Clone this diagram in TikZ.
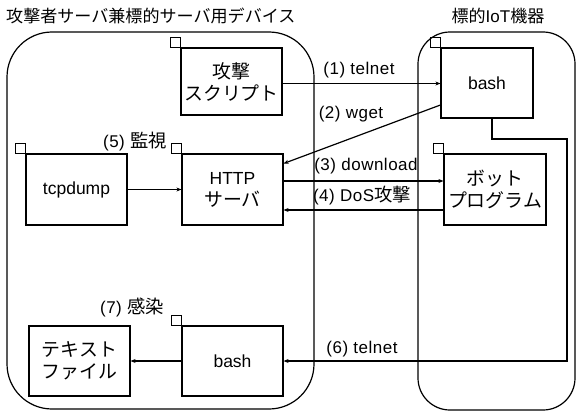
\documentclass[tikz,border=0pt]{standalone}
\usepackage{fontspec}
\setmainfont{Liberation Sans}
\newfontfamily\jp[Scale=1.08]{Noto Sans CJK JP}
\newfontfamily\lblfont[LetterSpace=3]{Liberation Sans}
\usetikzlibrary{arrows.meta}
\tikzset{
  box/.style={draw, line width=1.2pt, rectangle, minimum width=101pt, minimum height=70pt, inner sep=0pt, align=center, font=\fontsize{17.5}{22}\selectfont},
  arr/.style={line width=1.2pt, -{Stealth[length=5pt,width=4pt]}},
  lbl/.style={font=\fontsize{17}{20}\selectfont\lblfont, inner sep=0pt},
  cont/.style={draw, line width=1.2pt},
  ttl/.style={font=\fontsize{15.8}{20}\selectfont\jp, inner sep=0pt}
}
\newcommand{\tagsq}[1]{\draw[line width=1.2pt] (#1.north west) rectangle ++(-10,-10);}
\begin{document}
\begin{tikzpicture}[x=1pt,y=-1pt]
\useasboundingbox (0,0) rectangle (577,412);
% containers
\draw[cont, rounded corners=45pt] (7,32) rectangle (314,409);
\draw[cont, rounded corners=32pt] (418,32) rectangle (575,410);
\node[ttl, anchor=west] (t1) at (6,16) {攻撃者サーバ兼標的サーバ用デバイス};
\node[ttl] (t2) at (498,16) {標的{\fontsize{17}{20}\selectfont\fontspec{Liberation Sans}IoT}機器};
% boxes
\node[box, minimum height=67pt] (scr) at (231.5,81.5) {{\jp 攻撃}\\{\jp スクリプト}};
\node[box, minimum width=92pt] (ib) at (487,83) {bash};
\node[box, minimum height=71pt] (tcp) at (76.5,189.5) {tcpdump};
\node[box, minimum height=71pt] (http) at (232.5,189.5) {HTTP\\{\jp サーバ}};
\node[box, minimum width=102pt, minimum height=71pt] (bot) at (495,189.5) {{\jp ボット}\\{\jp プログラム}};
\node[box] (txt) at (79.5,361) {{\jp テキスト}\\{\jp ファイル}};
\node[box] (bb) at (232.5,361) {bash};
% small squares
\tagsq{scr}
\tagsq{ib}
\tagsq{tcp}
\tagsq{http}
\tagsq{bot}
\tagsq{bb}
% connectors
\draw[arr] ([yshift=-2pt]scr.east) -- ([yshift=-2pt]scr.east -| ib.west);
\draw[arr] ([yshift=-22pt]ib.west) -- ([yshift=26pt]http.east);
\draw[arr] ([yshift=8.5pt]http.east) -- ([yshift=8.5pt]http.east -| bot.west);
\draw[arr] ([yshift=-20.5pt]bot.west) -- ([yshift=-20.5pt]bot.west -| http.east);
\draw[arr] (tcp.east) -- (http.west);
\coordinate (c1) at (567,139);
\draw[arr] ([xshift=5pt]ib.south) |- (c1) |- (bb.east);
\draw[arr] (bb.west) -- (txt.east);
% labels
\node[lbl] (l1) at (359,70) {(1) telnet};
\node[lbl] (l2) at (351,114) {(2) wget};
\node[lbl] (l3) at (366,166) {(3) download};
\node[lbl] (l4) at (362,196) {(4) DoS{\jp 攻撃}};
\node[lbl] (l5) at (135,142) {(5) {\jp 監視}};
\node[lbl] (l6) at (362,349) {(6) telnet};
\node[lbl] (l7) at (132,307) {(7) {\jp 感染}};
\end{tikzpicture}
\end{document}
